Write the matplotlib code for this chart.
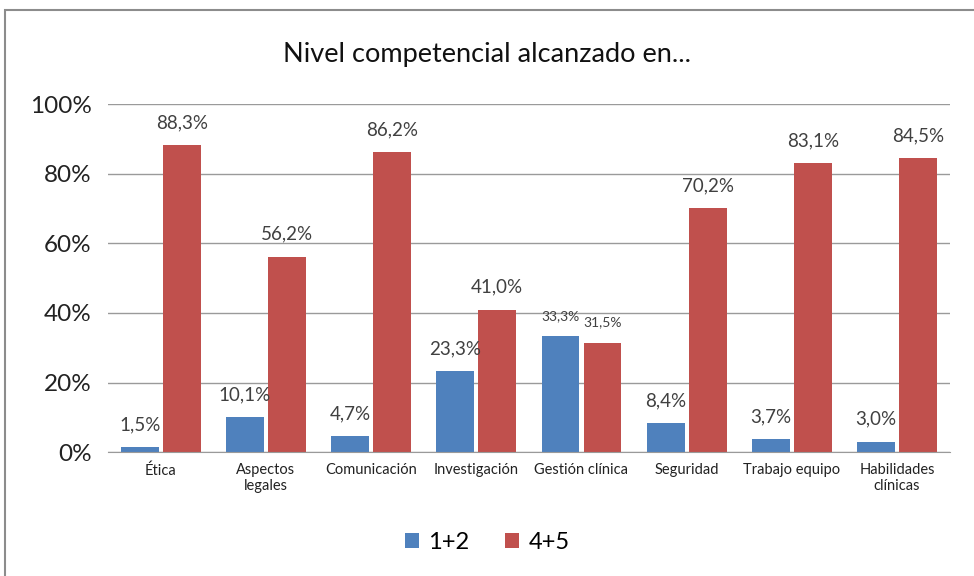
import matplotlib
matplotlib.use("Agg")
import matplotlib.pyplot as plt
import numpy as np
from matplotlib.patches import Rectangle

categorias = ["Ética", "Aspectos\nlegales", "Comunicación", "Investigación",
              "Gestión clínica", "Seguridad", "Trabajo equipo", "Habilidades\nclínicas"]
serie_12 = [1.5, 10.1, 4.7, 23.3, 33.3, 8.4, 3.7, 3.0]
serie_45 = [88.3, 56.2, 86.2, 41.0, 31.5, 70.2, 83.1, 84.5]
yticks = [0, 20, 40, 60, 80, 100]

azul = "#4F81BD"
rojo = "#C0504D"

plt.rcParams["font.family"] = ["Lato", "DejaVu Sans"]

fig = plt.figure(figsize=(9.74, 5.76), dpi=100)
ax = fig.add_axes([0.111, 0.215, 0.864, 0.604])

# marco exterior del grafico
fig.patches.append(Rectangle((0.005, -0.05), 1.1, 1.033,
                             transform=fig.transFigure, fill=False,
                             edgecolor="#8c8c8c", linewidth=1.5))

x = np.arange(len(categorias))
w = 0.36
b1 = ax.bar(x - w / 2 - 0.02, serie_12, w, color=azul, label="1+2")
b2 = ax.bar(x + w / 2 + 0.02, serie_45, w, color=rojo, label="4+5")

def fmt(v):
    return f"{v:.1f}%".replace(".", ",")

for i, (a, b) in enumerate(zip(serie_12, serie_45)):
    fs = 10 if i == 4 else 13.5
    ax.text(x[i] - w / 2 - 0.02, a + 4.0, fmt(a), ha="center", va="bottom",
            fontsize=fs, color="#404040")
    ax.text(x[i] + w / 2 + 0.02, b + 4.0, fmt(b), ha="center", va="bottom",
            fontsize=fs, color="#404040")

ax.set_ylim(0, 100)
ax.set_xlim(-0.5, len(categorias) - 0.5)
ax.set_yticks(yticks)
ax.set_yticklabels([f"{t}%" for t in yticks], fontsize=17.5, color="#222222")
ax.set_xticks(x)
ax.set_xticklabels(categorias, fontsize=10.5, color="#222222")
ax.tick_params(axis="both", length=0, pad=8)
ax.tick_params(axis="y", pad=12)
ax.yaxis.grid(True, color="#9a9a9a", linewidth=1)
ax.set_axisbelow(True)
for s in ["top", "right", "left"]:
    ax.spines[s].set_visible(False)
ax.spines["bottom"].set_color("#9a9a9a")

fig.text(0.5, 0.905, "Nivel competencial alcanzado en...", ha="center",
         va="center", fontsize=19.5, color="#111111")

fig.legend(handles=[b1, b2], loc="center", bbox_to_anchor=(0.5, 0.058), ncol=2,
           frameon=False, fontsize=17, handlelength=0.6, handleheight=0.6,
           columnspacing=1.5, handletextpad=0.4)

fig.savefig("out.png", dpi=100)
